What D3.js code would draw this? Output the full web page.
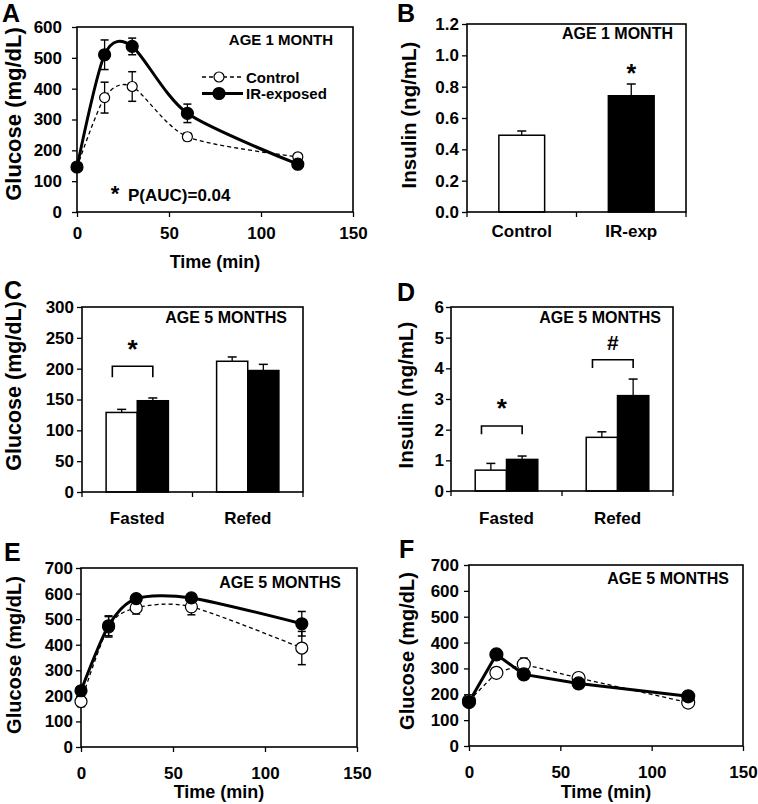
<!DOCTYPE html>
<html>
<head>
<meta charset="utf-8">
<script src="https://cdn.jsdelivr.net/npm/d3@7"></script>
<style>
  body { margin: 0; background: #fff; }
  svg { display: block; font-family: "Liberation Sans", Arial, sans-serif; font-weight: bold; }
</style>
</head>
<body>
<svg id="fig" width="758" height="804"></svg>
<script>
// sampling times (min) of the tolerance tests
const times = [0, 15, 30, 60, 120];
const timeTicks = [0, 50, 100, 150];

// A - glucose tolerance, age 1 month
const ctrlA = [145, 371, 407, 244, 179];
const ctrlA_se = [6, 50, 48, 12, 6];
const irA = [146, 510, 537, 320, 155];
const irA_se = [6, 48, 27, 30, 6];

// B - insulin, age 1 month
const groupsB = ['Control', 'IR-exp'];
const insulinB = [0.49, 0.742];
const insulinB_se = [0.027, 0.075];

// C / D - fasted vs refed, age 5 months
const feedCats = ['Fasted', 'Refed'];
const ctrlC = [129, 212];
const ctrlC_se = [5, 7];
const irC = [148, 197];
const irC_se = [4.5, 10];
const ctrlD = [0.68, 1.75];
const ctrlD_se = [0.22, 0.18];
const irD = [1.03, 3.11];
const irD_se = [0.11, 0.54];

// E - glucose tolerance, age 5 months
const ctrlE = [178, 470, 544, 548, 387];
const ctrlE_se = [20, 40, 24, 31, 65];
const irE = [220, 474, 580, 583, 482];
const irE_se = [15, 39, 10, 10, 48];

// F - second tolerance test, age 5 months
const ctrlF = [175, 283, 316, 263, 168];
const ctrlF_se = [5, 10, 24, 10, 5];
const irF = [170, 354, 277, 242, 192];
const irF_se = [5, 19, 8, 10, 8];

const svg = d3.select('#fig');

const styleTicks = (g, size) => {
    g.attr('font-family', null).attr('font-size', size);
    g.selectAll('.tick line').attr('stroke', '#000').attr('stroke-width', 1.3);
    g.selectAll('.tick text').attr('fill', '#000');
    g.select('.domain').remove();
};

const frame = (g, b) => {
    g.append('rect')
        .attr('x', b.x0).attr('y', b.y0)
        .attr('width', b.x1 - b.x0).attr('height', b.y1 - b.y0)
        .attr('fill', 'none').attr('stroke', '#000').attr('stroke-width', 1.6);
};

const yTitle = (text, cx, cy, size) => {
    svg.append('text')
        .attr('transform', 'translate(' + cx + ',' + cy + ') rotate(-90)')
        .attr('text-anchor', 'middle')
        .attr('dominant-baseline', 'central')
        .attr('font-size', size)
        .text(text);
};

const panelLetter = (t, x, y) => {
    svg.append('text').attr('x', x).attr('y', y).attr('font-size', 25).text(t);
};

const ageLabel = (t, x, y, size) => {
    svg.append('text').attr('x', x).attr('y', y)
        .attr('text-anchor', 'end').attr('dominant-baseline', 'central')
        .attr('font-size', size).text(t);
};

const errBar = (g, x, y0, y1, half) => {
    g.append('line').attr('x1', x).attr('x2', x).attr('y1', y0).attr('y2', y1)
        .attr('stroke', '#000').attr('stroke-width', 1.3);
    g.append('line').attr('x1', x - half).attr('x2', x + half).attr('y1', y1).attr('y2', y1)
        .attr('stroke', '#000').attr('stroke-width', 1.5);
};

function linePanel(cfg) {
    const b = cfg.box;
    const g = svg.append('g');
    const x = d3.scaleLinear().domain([0, 150]).range([b.x0, b.x1]);
    const y = d3.scaleLinear().domain([0, cfg.yMax]).range([b.y1, b.y0]);

    g.append('g').attr('transform', 'translate(0,' + b.y1 + ')')
        .call(d3.axisBottom(x).tickValues(timeTicks).tickSize(5).tickPadding(cfg.xPad).tickSizeOuter(0))
        .call(a => styleTicks(a, 17));
    g.append('g').attr('transform', 'translate(' + b.x0 + ',0)')
        .call(d3.axisLeft(y).ticks(cfg.yMax / cfg.yStep).tickSize(5).tickPadding(cfg.yPad).tickSizeOuter(0))
        .call(a => styleTicks(a, 17));
    frame(g, b);

    const line = d3.line()
        .x((d, i) => x(times[i]))
        .y(d => y(d))
        .curve(cfg.curve);

    const series = [
        {v: cfg.ctrl, se: cfg.ctrlSe, fill: '#fff', width: 1.3, dash: '4,3', r: cfg.rOpen},
        {v: cfg.ir, se: cfg.irSe, fill: '#000', width: 3, dash: null, r: cfg.rFill},
    ];
    series.forEach(s => {
        s.v.forEach((v, i) => {
            errBar(g, x(times[i]), y(v), y(v + s.se[i]), 4);
            errBar(g, x(times[i]), y(v), y(v - s.se[i]), 4);
        });
    });
    series.forEach(s => {
        g.append('path').datum(s.v)
            .attr('d', line)
            .attr('fill', 'none').attr('stroke', '#000')
            .attr('stroke-width', s.width)
            .attr('stroke-dasharray', s.dash);
    });
    series.forEach(s => {
        g.selectAll(null).data(s.v).enter().append('circle')
            .attr('cx', (d, i) => x(times[i]))
            .attr('cy', d => y(d))
            .attr('r', s.r)
            .attr('fill', s.fill).attr('stroke', '#000').attr('stroke-width', 1.2);
    });

    if (cfg.timeTitleY) {
        svg.append('text').attr('x', (b.x0 + b.x1) / 2).attr('y', cfg.timeTitleY)
            .attr('text-anchor', 'middle').attr('dominant-baseline', 'central')
            .attr('font-size', 18).text('Time (min)');
    }
    return {x, y, g};
}

function barPanel(cfg) {
    const b = cfg.box;
    const g = svg.append('g');
    const x = d3.scaleBand().domain(cfg.cats).range([b.x0, b.x1]);
    const y = d3.scaleLinear().domain([0, cfg.yMax]).range([b.y1, b.y0]);
    const inner = d3.scaleBand().domain(cfg.keys).range([0, x.bandwidth()]).paddingOuter(cfg.outer);

    g.append('g').attr('transform', 'translate(0,' + b.y1 + ')')
        .call(d3.axisBottom(x).tickSize(0).tickPadding(cfg.xPad))
        .call(a => styleTicks(a, 17));
    // category boundary ticks
    const edges = cfg.cats.map(c => x(c)).concat([x.range()[1]]);
    g.selectAll(null).data(edges).enter().append('line')
        .attr('x1', d => d).attr('x2', d => d)
        .attr('y1', b.y1).attr('y2', b.y1 + 5)
        .attr('stroke', '#000').attr('stroke-width', 1.3);
    g.append('g').attr('transform', 'translate(' + b.x0 + ',0)')
        .call(d3.axisLeft(y).ticks(cfg.yMax / cfg.yStep).tickSize(5).tickPadding(cfg.yPad)
            .tickFormat(cfg.fmt ? d3.format(cfg.fmt) : null).tickSizeOuter(0))
        .call(a => styleTicks(a, 17));

    cfg.keys.forEach((k, ki) => {
        const vals = cfg.values[ki];
        const ses = cfg.errors[ki];
        cfg.cats.forEach((c, ci) => {
            const bx = x(c) + inner(k);
            const cx = bx + inner.bandwidth() / 2;
            errBar(g, cx, y(vals[ci]), y(vals[ci] + ses[ci]), 4.5);
            g.append('rect')
                .attr('x', bx).attr('y', y(vals[ci]))
                .attr('width', inner.bandwidth()).attr('height', b.y1 - y(vals[ci]))
                .attr('fill', cfg.fills[ki]).attr('stroke', '#000').attr('stroke-width', 1.5);
        });
    });
    frame(g, b);
    return {x, y, inner, g};
}

const star = (g, cx, cy, mark, size) => {
    const off = mark === '*' ? 0.58 * size : 0.36 * size;
    g.append('text').attr('x', cx).attr('y', cy + off)
        .attr('text-anchor', 'middle').attr('font-size', size).text(mark);
};

const bracket = (p, cat, top, leg, mark, markY, markSize) => {
    const bw = p.inner.bandwidth();
    const xa = p.x(cat) + p.inner('ctrl') + bw / 2 - 0.3 * bw;
    const xb = p.x(cat) + p.inner('ir') + bw / 2;
    p.g.append('path')
        .attr('d', 'M' + xa + ',' + p.y(leg) + 'V' + p.y(top) + 'H' + xb + 'V' + p.y(leg))
        .attr('fill', 'none').attr('stroke', '#000').attr('stroke-width', 1.6);
    star(p.g, (xa + xb) / 2, p.y(markY), mark, markSize);
};

// ---- A ----
linePanel({
    box: {x0: 77, x1: 353, y0: 27, y1: 212},
    yMax: 600, yStep: 100, xPad: 10, yPad: 10,
    ctrl: ctrlA, ctrlSe: ctrlA_se, ir: irA, irSe: irA_se,
    curve: d3.curveCardinal.tension(0.2), rOpen: 5, rFill: 6,
    timeTitleY: 262,
});
panelLetter('A', 2, 22);
yTitle('Glucose (mg/dL)', 13.5, 114, 22);
ageLabel('AGE 1 MONTH', 333, 39, 15);
// legend
[{t: 'Control', y: 77, fill: '#fff', w: 1.3, dash: '4,3', r: 5},
 {t: 'IR-exposed', y: 93.5, fill: '#000', w: 3, dash: null, r: 6}].forEach(l => {
    svg.append('line').attr('x1', 202).attr('x2', 243).attr('y1', l.y).attr('y2', l.y)
        .attr('stroke', '#000').attr('stroke-width', l.w).attr('stroke-dasharray', l.dash);
    svg.append('circle').attr('cx', 219).attr('cy', l.y).attr('r', l.r)
        .attr('fill', l.fill).attr('stroke', '#000').attr('stroke-width', 1.2);
    svg.append('text').attr('x', 246).attr('y', l.y).attr('dominant-baseline', 'central')
        .attr('font-size', 15).text(l.t);
});
star(svg, 115, 188, '*', 22);
svg.append('text').attr('x', 128).attr('y', 195).attr('dominant-baseline', 'central')
    .attr('font-size', 17).text('P(AUC)=0.04');

// ---- B ----
const pB = barPanel({
    box: {x0: 467, x1: 686, y0: 24, y1: 212},
    cats: groupsB, keys: ['v'], outer: 0.696,
    values: [insulinB], errors: [insulinB_se], fills: ['#fff'],
    yMax: 1.2, yStep: 0.2, fmt: '.1f', xPad: 13, yPad: 3,
});
// IR-exposed bar is black
pB.g.selectAll('rect').filter((d, i) => i === 1).attr('fill', '#000');
panelLetter('B', 397, 22);
yTitle('Insulin (ng/mL)', 408, 115, 20.5);
ageLabel('AGE 1 MONTH', 673, 33, 16);
star(svg, pB.x('IR-exp') + pB.x.bandwidth() / 2, pB.y(0.92), '*', 25);

// ---- C ----
const pC = barPanel({
    box: {x0: 82, x1: 303, y0: 307, y1: 492},
    cats: feedCats, keys: ['ctrl', 'ir'], outer: 0.774,
    values: [ctrlC, irC], errors: [ctrlC_se, irC_se], fills: ['#fff', '#000'],
    yMax: 300, yStep: 50, xPad: 20, yPad: 3,
});
panelLetter('C', 4, 299);
yTitle('Glucose (mg/dL)', 13.5, 386, 21.5);
ageLabel('AGE 5 MONTHS', 287, 317, 16);
bracket(pC, 'Fasted', 204, 186, '*', 241, 26);

// ---- D ----
const pD = barPanel({
    box: {x0: 451, x1: 673, y0: 307, y1: 491},
    cats: feedCats, keys: ['ctrl', 'ir'], outer: 0.774,
    values: [ctrlD, irD], errors: [ctrlD_se, irD_se], fills: ['#fff', '#000'],
    yMax: 6, yStep: 1, xPad: 21, yPad: 2,
});
panelLetter('D', 397, 301);
yTitle('Insulin (ng/mL)', 405, 395, 20.5);
ageLabel('AGE 5 MONTHS', 661, 317, 16);
bracket(pD, 'Fasted', 2.12, 1.85, '*', 2.9, 26);
bracket(pD, 'Refed', 4.28, 4.01, '#', 4.83, 21);

// ---- E ----
linePanel({
    box: {x0: 81, x1: 357, y0: 568, y1: 747},
    yMax: 700, yStep: 100, xPad: 15, yPad: 3,
    ctrl: ctrlE, ctrlSe: ctrlE_se, ir: irE, irSe: irE_se,
    curve: d3.curveCardinal.tension(0.2), rOpen: 6, rFill: 6,
    timeTitleY: 792,
});
panelLetter('E', 4, 561);
yTitle('Glucose (mg/dL)', 13.5, 655, 20);
ageLabel('AGE 5 MONTHS', 341, 582, 16);

// ---- F ----
linePanel({
    box: {x0: 469, x1: 743, y0: 565, y1: 746},
    yMax: 700, yStep: 100, xPad: 15, yPad: 5,
    ctrl: ctrlF, ctrlSe: ctrlF_se, ir: irF, irSe: irF_se,
    curve: d3.curveLinear, rOpen: 6.5, rFill: 6.5,
    timeTitleY: 792,
});
panelLetter('F', 399, 558);
yTitle('Glucose (mg/dL)', 407, 651, 20);
ageLabel('AGE 5 MONTHS', 729, 578, 16);
</script>
</body>
</html>
